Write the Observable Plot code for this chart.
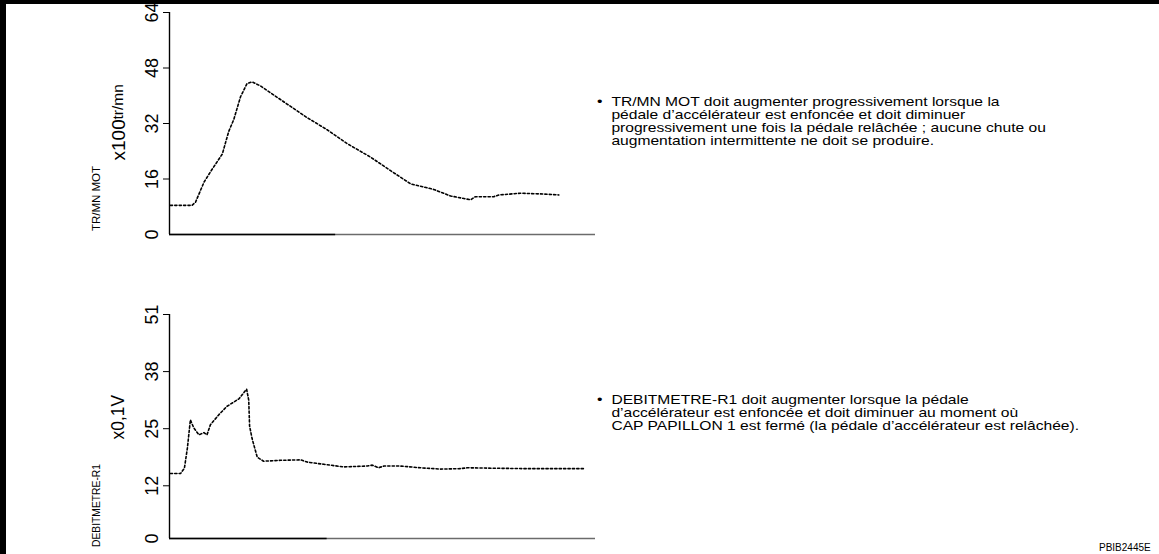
<!DOCTYPE html>
<html>
<head>
<meta charset="utf-8">
<script src="https://cdn.jsdelivr.net/npm/d3@7"></script>
<script src="https://cdn.jsdelivr.net/npm/@observablehq/plot@0.6"></script>
<style>
  html, body { margin: 0; padding: 0; background: #fff; }
  #page { position: relative; width: 1159px; height: 554px; overflow: hidden; background: #fff;
          font-family: "Liberation Sans", Arial, Helvetica, sans-serif; color: #000; }
  .edge-top { position: absolute; left: 0; top: 0; width: 1159px; height: 4px; background: #000; }
  .edge-left { position: absolute; left: 0; top: 0; width: 6px; height: 554px; background: #000; }
  .panel { position: absolute; left: 0; }
  .note { position: absolute; left: 597px; font-size: 13px; line-height: 13px; white-space: nowrap;
          transform: scaleX(1.2); transform-origin: 0 0; }
  .note .bullet { position: absolute; left: 0; top: 0; }
  .note .body { padding-left: 12px; }
  .ref { position: absolute; left: 1099px; top: 542px; font-size: 10px; line-height: 12px; white-space: nowrap; }
</style>
</head>
<body>
<div id="page">
  <div id="rpm" class="panel" style="top:0"></div>
  <div id="maf" class="panel" style="top:277px"></div>
  <div class="note" style="top:95px">
    <span class="bullet">•</span>
    <div class="body">TR/MN MOT doit augmenter progressivement lorsque la<br>pédale d’accélérateur est enfoncée et doit diminuer<br>progressivement une fois la pédale relâchée ; aucune chute ou<br>augmentation intermittente ne doit se produire.</div>
  </div>
  <div class="note" style="top:393px">
    <span class="bullet">•</span>
    <div class="body">DEBITMETRE-R1 doit augmenter lorsque la pédale<br>d’accélérateur est enfoncée et doit diminuer au moment où<br>CAP PAPILLON 1 est fermé (la pédale d’accélérateur est relâchée).</div>
  </div>
  <div class="ref">PBIB2445E</div>
  <div class="edge-top"></div>
  <div class="edge-left"></div>
</div>
<script>
// Engine speed trace (x100 tr/mn) against elapsed time (arbitrary units 0–100)
const rpmTime = [0.2, 5.3, 6.1, 8.1, 10.0, 12.4, 13.9, 15.1, 16.7, 18.2, 19.4, 21.4, 24.5, 27.6, 32.3,
  37.0, 41.7, 47.2, 51.9, 56.6, 62.0, 66.0, 70.7, 71.8, 76.1, 77.3, 82.4, 87.1, 91.4];
const rpmValues = [8.4, 8.4, 9.3, 15.1, 18.8, 23.2, 29.7, 33.2, 39.8, 43.5, 44.0, 42.8, 40.2, 37.6, 33.7,
  30.2, 26.2, 22.3, 18.4, 14.6, 13.0, 11.1, 10.0, 10.9, 10.9, 11.4, 11.9, 11.7, 11.4];
const rpmTicks = [0, 16, 32, 48, 64];

// Air flow meter voltage trace (x0,1 V)
const mafTime = [0.2, 2.6, 3.5, 4.2, 4.9, 5.7, 6.9, 8.1, 8.8, 9.6, 11.6, 13.5, 16.3, 18.1, 18.6, 18.8,
  19.4, 20.6, 22.1, 26.1, 30.8, 32.3, 36.2, 40.9, 46.4, 47.6, 49.1, 50.3, 54.2, 58.9, 63.6, 68.3,
  69.9, 76.1, 84.0, 97.3];
const mafValues = [14.8, 14.8, 16.0, 20.6, 27.0, 25.2, 23.6, 24.1, 23.6, 25.9, 28.2, 30.1, 31.8, 34.0,
  31.5, 25.6, 22.7, 18.5, 17.6, 17.8, 17.9, 17.4, 16.9, 16.3, 16.5, 16.7, 16.1, 16.5, 16.5, 16.1,
  15.8, 15.9, 16.1, 16.0, 15.9, 15.9];
const mafTicks = [0, 12, 25, 38, 51];

const timeDomain = [0, 100];
const fontFamily = "'Liberation Sans', Arial, Helvetica, sans-serif";

function trace({time, values, ticks, yRange, height, darkEnd, name, unitParts}) {
  const rows = time.map((t, i) => ({t, v: values[i]}));
  const [bottom, top] = yRange;
  const yMax = ticks[ticks.length - 1];
  const unitMarks = unitParts.map(p =>
    Plot.text([p.text], {
      text: d => d, frameAnchor: "top-left", dx: 118 - 169, dy: p.y - top,
      rotate: -90, textAnchor: "start", lineAnchor: "middle", fontSize: p.size
    })
  );
  return Plot.plot({
    width: 600,
    height,
    marginLeft: 169,
    marginRight: 5,
    marginTop: top,
    marginBottom: height - bottom,
    style: {background: "transparent", color: "#000", fontFamily, overflow: "visible"},
    x: {domain: timeDomain, range: [169, 595], axis: null},
    y: {domain: [0, yMax], range: yRange, axis: null},
    marks: [
      // baseline and left spine
      Plot.ruleY([0], {x1: 0, x2: 100, stroke: "#6b6b6b", strokeWidth: 1.6}),
      Plot.ruleY([0], {x1: 0, x2: darkEnd, stroke: "#000", strokeWidth: 1.6}),
      Plot.ruleX([0], {y1: 0, y2: yMax, stroke: "#000", strokeWidth: 1.4}),
      Plot.axisY({ticks: ticks.slice(1), tickSize: 6, tickRotate: -90, fontSize: 18, label: null, tickPadding: 6}),
      Plot.axisY({ticks: [ticks[0]], tickSize: 0, tickRotate: -90, fontSize: 18, label: null, tickPadding: 12}),
      // the recorded signal, dotted
      Plot.line(rows, {x: "t", y: "v", stroke: "#000", strokeWidth: 1.6, strokeDasharray: "2.2,2.2"}),
      // signal name and unit
      Plot.text([name.text], {
        text: d => d, frameAnchor: "top-left", dx: 96 - 169, dy: name.y - top,
        rotate: -90, textAnchor: "middle", lineAnchor: "middle", fontSize: name.size
      }),
      ...unitMarks
    ]
  });
}

document.getElementById("rpm").append(trace({
  time: rpmTime, values: rpmValues, ticks: rpmTicks,
  yRange: [234, 12], height: 277, darkEnd: 39,
  name: {text: "TR/MN MOT", y: 198, size: 11.5},
  unitParts: [{text: "x100", y: 160, size: 19}, {text: "tr/mn", y: 119, size: 15.5}]
}));

document.getElementById("maf").append(trace({
  time: mafTime, values: mafValues, ticks: mafTicks,
  yRange: [261, 37], height: 277, darkEnd: 37,
  name: {text: "DEBITMETRE-R1", y: 505 - 277, size: 10.3},
  unitParts: [{text: "x0,1V", y: 439 - 277, size: 17.5}]
}));
</script>
</body>
</html>
